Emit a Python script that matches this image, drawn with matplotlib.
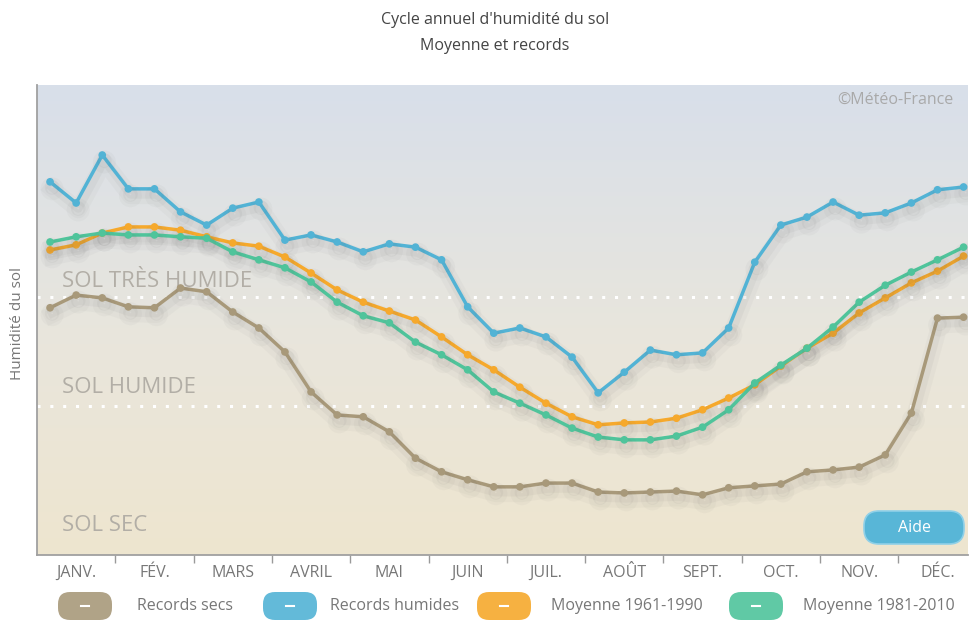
import matplotlib.pyplot as plt
import numpy as np
from matplotlib import patheffects
from matplotlib.colors import LinearSegmentedColormap
from matplotlib.patches import FancyBboxPatch

plt.rcParams["font.family"] = ["Open Sans", "DejaVu Sans"]

months = ["JANV.", "FÉV.", "MARS", "AVRIL", "MAI", "JUIN",
          "JUIL.", "AOÛT", "SEPT.", "OCT.", "NOV.", "DÉC."]

# one value per decade (3 per month), index 0-100
records_secs = [52.6, 55.3, 54.7, 52.8, 52.6, 56.8, 56.0, 51.7, 48.3, 43.2, 34.7, 29.8,
                29.4, 26.2, 20.6, 17.7, 16.0, 14.5, 14.5, 15.3, 15.3, 13.4, 13.2, 13.4,
                13.6, 12.8, 14.3, 14.7, 15.1, 17.7, 18.1, 18.7, 21.3, 30.2, 50.4, 50.6]
records_humides = [79.4, 74.9, 85.1, 77.9, 77.9, 73.0, 70.2, 73.8, 75.1, 67.0, 68.1, 66.6,
                   64.5, 66.2, 65.5, 62.8, 52.8, 47.2, 48.3, 46.4, 42.1, 34.5, 38.9, 43.6,
                   42.6, 43.0, 48.3, 62.3, 70.2, 71.9, 75.1, 72.3, 72.8, 74.9, 77.7, 78.3]
moyenne_1961_1990 = [64.9, 66.0, 68.5, 69.8, 69.8, 69.1, 67.7, 66.4, 65.7, 63.4, 60.0, 56.4,
                     53.8, 51.9, 50.0, 46.4, 42.6, 39.4, 35.7, 32.3, 29.4, 27.7, 28.1, 28.3,
                     29.1, 30.9, 33.4, 36.2, 40.2, 44.0, 47.2, 51.5, 54.7, 57.9, 60.4, 63.6]
moyenne_1981_2010 = [66.6, 67.7, 68.5, 68.1, 68.1, 67.7, 67.4, 64.5, 62.8, 61.1, 58.1, 53.8,
                     50.9, 49.4, 45.3, 42.6, 39.4, 34.7, 32.3, 29.8, 27.0, 25.1, 24.5, 24.5,
                     25.3, 27.2, 30.9, 36.6, 40.4, 44.0, 48.5, 53.8, 57.4, 60.2, 62.8, 65.5]

seuil_tres_humide = 54.9
seuil_humide = 31.7

series = [
    ("Records secs", records_secs, "#a8997a"),
    ("Records humides", records_humides, "#52b3d5"),
    ("Moyenne 1961-1990", moyenne_1961_1990, "#f6a92c"),
    ("Moyenne 1981-2010", moyenne_1981_2010, "#4fc49b"),
]

decades = (np.arange(36) + 0.5) / 3.0
xmax = 11.89

fig = plt.figure(figsize=(9.7, 6.21), dpi=100)
ax = fig.add_axes([37 / 970, 66 / 621, 931 / 970, 470 / 621])

# vertical background gradient, beige at the bottom to grey-blue at the top
cmap = LinearSegmentedColormap.from_list(
    "fond", [(0.0, "#eee5cf"), (0.45, "#e9e6dc"), (1.0, "#d8dfea")])
grad = np.linspace(0, 1, 256).reshape(-1, 1)
ax.imshow(grad, origin="lower", extent=[0, xmax, 0, 100], aspect="auto",
          cmap=cmap, zorder=0)

for y in (seuil_tres_humide, seuil_humide):
    ax.axhline(y, color="white", lw=2.2, ls=(0, (1, 3.2)), zorder=1)

zone_style = dict(color="#b2aea6", fontsize=16, ha="left", va="bottom", zorder=1)
ax.text(0.32, seuil_tres_humide + 1.0, "SOL TRÈS HUMIDE", **zone_style)
ax.text(0.32, seuil_humide + 1.8, "SOL HUMIDE", **zone_style)
ax.text(0.32, 4.0, "SOL SEC", **zone_style)

# soft drop shadow under each curve
shadow = [patheffects.SimpleLineShadow(offset=(1.5, -5), shadow_color="#555555",
                                       alpha=0.035, linewidth=12),
          patheffects.SimpleLineShadow(offset=(1.5, -4), shadow_color="#555555",
                                       alpha=0.05, linewidth=6),
          patheffects.Normal()]
for z, (name, values, color) in enumerate(series):
    ax.plot(decades, values, color=color, lw=2.5, marker="o", ms=4.5,
            solid_joinstyle="round", zorder=3 + z, path_effects=shadow)

ax.set_xlim(0, xmax)
ax.set_ylim(0, 100)
ax.set_yticks([])
ax.set_xticks(np.arange(1, 12))
ax.set_xticklabels([])
ax.set_xticks(np.arange(12) + 0.5, minor=True)
ax.set_xticklabels(months, minor=True)
ax.tick_params(axis="x", which="major", length=6, width=1, color="#9a9a9a")
ax.tick_params(axis="x", which="minor", length=0, pad=7, labelsize=11.5,
               labelcolor="#777777")
for side in ("top", "right"):
    ax.spines[side].set_visible(False)
for side in ("left", "bottom"):
    ax.spines[side].set_color("#a0a0a0")
    ax.spines[side].set_linewidth(1.3)

ax.text(0.984, 0.985, "©Météo-France", transform=ax.transAxes, ha="right",
        va="top", fontsize=11.5, color="#a9a9a9")

# "Aide" button, in pixel units through inches
px = fig.dpi_scale_trans
aide = FancyBboxPatch((8.64, 0.77), 1.0, 0.33,
                      boxstyle="round,pad=0,rounding_size=0.15",
                      transform=px, facecolor="#58b6d7", edgecolor="#8fd0e8",
                      lw=1.2, zorder=10)
fig.add_artist(aide)
fig.text(9.14, 0.935, "Aide", transform=px, ha="center", va="center",
         color="white", fontsize=11.5, zorder=11)

fig.text(495 / 970, 1 - 20 / 621, "Cycle annuel d'humidité du sol", ha="center",
         va="center", fontsize=11.5, color="#444444")
fig.text(495 / 970, 1 - 46 / 621, "Moyenne et records", ha="center",
         va="center", fontsize=11.5, color="#444444")
fig.text(18 / 970, 1 - 323 / 621, "Humidité du sol", rotation=90, ha="center",
         va="center", fontsize=11, color="#777777")

# legend row: pill icons with a white dash, label to the right
icon_left = [58, 263, 477, 729]
label_left = [137, 330, 551, 803]
for (name, values, color), il, tl in zip(series, icon_left, label_left):
    pill = FancyBboxPatch((il / 100, (621 - 620) / 100), 0.54, 0.28,
                          boxstyle="round,pad=0,rounding_size=0.12",
                          transform=px, facecolor=color, edgecolor="none",
                          alpha=0.9)
    fig.add_artist(pill)
    fig.add_artist(plt.Line2D([(il + 23) / 100, (il + 31) / 100],
                              [(621 - 606) / 100] * 2, transform=px,
                              color="white", lw=1.5))
    fig.text(tl / 100, (621 - 606) / 100, name, transform=px, ha="left",
             va="center", fontsize=11.5, color="#777777")

fig.savefig("out.png", dpi=100)
